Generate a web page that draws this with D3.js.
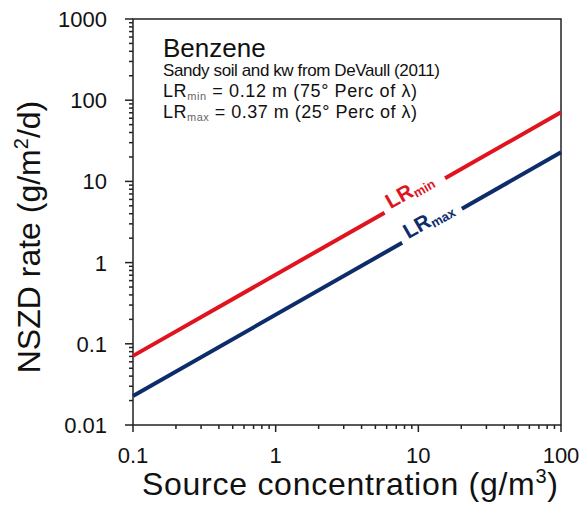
<!DOCTYPE html>
<html>
<head>
<meta charset="utf-8">
<script src="https://cdn.jsdelivr.net/npm/d3@7"></script>
<style>
  body { margin: 0; background: #fff; }
  svg { display: block; font-family: "Liberation Sans", Arial, sans-serif; }
</style>
</head>
<body>
<svg id="svg" width="583" height="506"></svg>
<script>
// source concentration (g/m3) at the ends of each line
const concentration = [0.1, 100];
// NSZD rate (g/m2/d) for the two leaching-rate cases
const rateLRmin = [0.071, 71];
const rateLRmax = [0.0228, 22.8];
// x range (g/m3) where each line is broken for its label
const gapLRmin = [5.8, 15.4];
const gapLRmax = [7.7, 20.2];
const xTicks = [0.1, 1, 10, 100];
const yTicks = [0.01, 0.1, 1, 10, 100, 1000];

const svg = d3.select("#svg");
const plotL = 133, plotR = 561, plotT = 19, plotB = 425;

const x = d3.scaleLog().domain([0.1, 100]).range([plotL, plotR]);
const y = d3.scaleLog().domain([0.01, 1000]).range([plotB, plotT]);

// minor ticks 2..9 in each decade
function minors(lo, hi) {
    const out = [];
    for (let p = lo; p < hi; p *= 10)
        for (let k = 2; k <= 9; k++) out.push(+(p * k).toPrecision(3));
    return out;
}

const axes = svg.append("g").attr("stroke", "#222").attr("stroke-width", 1.5);

// x axis ticks
axes.selectAll(".xmaj").data(xTicks).join("line")
    .attr("x1", d => x(d)).attr("x2", d => x(d))
    .attr("y1", plotB).attr("y2", plotB + 7);
axes.selectAll(".xmin").data(minors(0.1, 100)).join("line")
    .attr("x1", d => x(d)).attr("x2", d => x(d))
    .attr("y1", plotB).attr("y2", plotB + 4);

// y axis ticks
axes.selectAll(".ymaj").data(yTicks).join("line")
    .attr("x1", plotL - 8).attr("x2", plotL)
    .attr("y1", d => y(d)).attr("y2", d => y(d));
axes.selectAll(".ymin").data(minors(0.01, 1000)).join("line")
    .attr("x1", plotL - 4).attr("x2", plotL)
    .attr("y1", d => y(d)).attr("y2", d => y(d));

// frame
svg.append("rect")
    .attr("x", plotL).attr("y", plotT)
    .attr("width", plotR - plotL).attr("height", plotB - plotT)
    .attr("fill", "none").attr("stroke", "#222").attr("stroke-width", 1.5);

const fmt = d => String(d);

svg.append("g").selectAll("text").data(xTicks).join("text")
    .attr("x", d => x(d)).attr("y", 463)
    .attr("text-anchor", "middle")
    .attr("font-size", 22).attr("fill", "#111")
    .text(fmt);

svg.append("g").selectAll("text").data(yTicks).join("text")
    .attr("x", 107).attr("y", d => y(d))
    .attr("dy", "0.36em")
    .attr("text-anchor", "end")
    .attr("font-size", 22).attr("fill", "#111")
    .text(fmt);

// axis titles
const xt = svg.append("text")
    .attr("x", 142).attr("y", 495)
    .attr("textLength", 416).attr("lengthAdjust", "spacing")
    .attr("font-size", 32).attr("fill", "#111");
xt.append("tspan").text("Source concentration (g/m");
xt.append("tspan").attr("font-size", 20).attr("dy", -12).text("3");
xt.append("tspan").attr("dy", 12).text(")");

const yt = svg.append("text")
    .attr("transform", `translate(40,${(plotT + plotB) / 2 + 15}) rotate(-90)`)
    .attr("text-anchor", "middle").attr("font-size", 32).attr("fill", "#111");
yt.append("tspan").text("NSZD rate (g/m");
yt.append("tspan").attr("font-size", 20).attr("dy", -12).text("2");
yt.append("tspan").attr("dy", 12).text("/d)");

// annotation block
const note = svg.append("g").attr("fill", "#111");
note.append("text").attr("x", 163).attr("y", 57).attr("font-size", 26).text("Benzene");
note.append("text").attr("x", 163).attr("y", 76).attr("font-size", 17)
    .attr("textLength", 277).text("Sandy soil and kw from DeVaull (2011)");
function lrLine(yy, sub, rest) {
    const t = note.append("text").attr("x", 163).attr("y", yy).attr("font-size", 18)
        .attr("textLength", 254).attr("lengthAdjust", "spacing");
    t.append("tspan").text("LR");
    t.append("tspan").attr("font-size", 11).attr("fill", "#666").attr("dy", 3).text(sub);
    t.append("tspan").attr("dy", -3).text(rest);
}
lrLine(97, "min", " = 0.12 m (75° Perc  of λ)");
lrLine(118, "max", " = 0.37 m (25° Perc  of λ)");

// rate lines with a gap for the label
const series = [
    { name: "min", rate: rateLRmin, gap: gapLRmin, color: "#e0141e" },
    { name: "max", rate: rateLRmax, gap: gapLRmax, color: "#0d2c6c" }
];

const line = d3.line().x(d => x(d[0])).y(d => y(d[1]));

series.forEach(s => {
    const pts = concentration.map((c, i) => [c, s.rate[i]]);
    const x0 = x(pts[0][0]), y0 = y(pts[0][1]);
    const x1 = x(pts[1][0]), y1 = y(pts[1][1]);
    const len = Math.hypot(x1 - x0, y1 - y0);
    const k = len / (x1 - x0);
    const a = (x(s.gap[0]) - x0) * k, b = (x(s.gap[1]) - x0) * k;
    const ang = Math.atan2(y1 - y0, x1 - x0) * 180 / Math.PI;

    svg.append("path")
        .attr("d", line(pts))
        .attr("fill", "none")
        .attr("stroke", s.color)
        .attr("stroke-width", 4)
        .attr("stroke-dasharray", `${a},${b - a},${len}`);

    const lx = x(s.gap[0]) + 6, ly = y0 + (lx - x0) * (y1 - y0) / (x1 - x0);
    const t = svg.append("text")
        .attr("transform", `translate(${lx},${ly}) rotate(${ang})`)
        .attr("font-size", 21).attr("font-weight", "bold").attr("fill", s.color);
    t.append("tspan").text("LR");
    t.append("tspan").attr("font-size", 13).attr("dy", 3).text(s.name);
});
</script>
</body>
</html>
